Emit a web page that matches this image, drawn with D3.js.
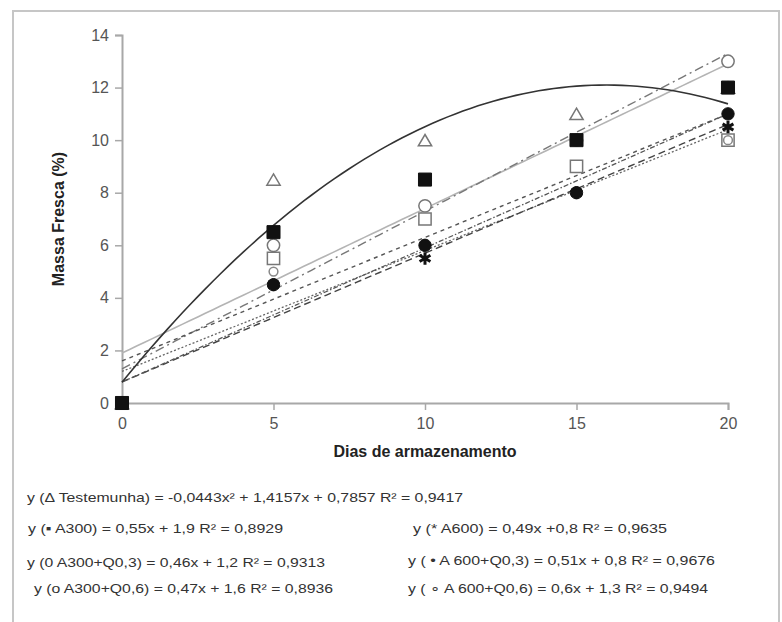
<!DOCTYPE html>
<html>
<head>
<meta charset="utf-8">
<script src="https://cdn.jsdelivr.net/npm/d3@7"></script>
<style>
  html, body { margin: 0; padding: 0; background: #fff; }
  svg { display: block; }
  text { font-family: "Liberation Sans", Arial, sans-serif; }
</style>
</head>
<body>
<svg id="chart" width="782" height="622"></svg>
<script>
// Storage days
const days = [0, 5, 10, 15, 20];

// Fresh mass loss (%) per treatment
const testemunha = [0, 8.5, 10, 11, 12];
const a300       = [0, 6.5, 8.5, 10, 12];
const a600       = [0, 4.5, 5.5, 8, 10.5];
const a300q03    = [0, 5, 6, 8, 10];
const a600q03    = [0, 4.5, 6, 8, 11];
const a300q06    = [0, 5.5, 7, 9, 10];
const a600q06    = [0, 6, 7.5, 10, 13];

// Trend coefficients as given in the equations [c2, c1, c0]
const fitTestemunha = [-0.0443, 1.4157, 0.7857];
const fitA300    = [0, 0.55, 1.9];
const fitA600    = [0, 0.49, 0.8];
const fitA300q03 = [0, 0.46, 1.2];
const fitA600q03 = [0, 0.51, 0.8];
const fitA300q06 = [0, 0.47, 1.6];
const fitA600q06 = [0, 0.6, 1.3];

// Axis ticks
const xTicks = [0, 5, 10, 15, 20];
const yTicks = [0, 2, 4, 6, 8, 10, 12, 14];

// Regression equations
const eqLeft = [
  "y (\u0394 Testemunha)  = -0,0443x\u00B2  + 1,4157x  + 0,7857  R\u00B2 = 0,9417",
  "y (\u25AA A300) = 0,55x + 1,9 R\u00B2 = 0,8929",
  "y (0 A300+Q0,3) = 0,46x + 1,2  R\u00B2 = 0,9313",
  "y (o A300+Q0,6) = 0,47x + 1,6 R\u00B2 = 0,8936"
];
const eqRight = [
  "y (* A600) =  0,49x  +0,8 R\u00B2 = 0,9635",
  "y ( \u2022 A 600+Q0,3) = 0,51x + 0,8 R\u00B2 = 0,9676",
  "y ( \u2218 A 600+Q0,6) = 0,6x + 1,3 R\u00B2 = 0,9494"
];

const svg = d3.select("#chart");

// outer frame
svg.append("rect")
  .attr("x", 13).attr("y", 11).attr("width", 766).attr("height", 640)
  .attr("fill", "none").attr("stroke", "#c6c6c6").attr("stroke-width", 2);

const x = d3.scaleLinear().domain([0, 20]).range([122, 728]);
const y = d3.scaleLinear().domain([0, 14]).range([403, 35]);

const axisColor = "#a8a8a8";

// y axis
const yAxis = svg.append("g").attr("transform", `translate(${x(0)},0)`)
  .call(d3.axisLeft(y).tickValues(yTicks).tickSize(7).tickPadding(6).tickFormat(d3.format("d")));
// x axis
const xAxis = svg.append("g").attr("transform", `translate(0,${y(0)})`)
  .call(d3.axisBottom(x).tickValues(xTicks).tickSize(7).tickPadding(8).tickFormat(d3.format("d")));

[yAxis, xAxis].forEach(g => {
  g.select(".domain").attr("stroke", axisColor).attr("stroke-width", 2);
  g.selectAll(".tick line").attr("stroke", axisColor).attr("stroke-width", 1.5);
  g.selectAll(".tick text").attr("fill", "#555").style("font-size", "16px")
    .style("font-family", "'Liberation Sans', Arial, sans-serif");
});

// axis titles
svg.append("text")
  .attr("x", 425).attr("y", 457)
  .attr("text-anchor", "middle")
  .style("font-size", "16px").style("font-weight", "bold").attr("fill", "#222")
  .text("Dias de armazenamento");

svg.append("text")
  .attr("transform", `translate(64,${(y(0) + y(14)) / 2}) rotate(-90)`)
  .attr("text-anchor", "middle")
  .style("font-size", "16px").style("font-weight", "bold").attr("fill", "#222")
  .text("Massa Fresca (%)");

// trend lines
const xs = d3.range(0, 20.01, 0.25);
const poly = c => t => c[0] * t * t + c[1] * t + c[2];
const line = d3.line().x(d => x(d[0])).y(d => y(d[1]));

const trends = [
  { c: fitA300,    stroke: "#b4b4b4", w: 1.6, dash: null },
  { c: fitA600q06, stroke: "#777",    w: 1.4, dash: "9,4,2,4" },
  { c: fitA300q06, stroke: "#555",    w: 1.4, dash: "4,4" },
  { c: fitA300q03, stroke: "#666",    w: 1.3, dash: "2,2" },
  { c: fitA600,    stroke: "#444",    w: 1.4, dash: "7,4" },
  { c: fitA600q03, stroke: "#555",    w: 1.3, dash: "5,2,1.5,2" },
  { c: fitTestemunha, stroke: "#333", w: 1.6, dash: null }
];

svg.append("g").selectAll("path").data(trends).join("path")
  .attr("d", t => line(xs.map(v => [v, poly(t.c)(v)])))
  .attr("fill", "none")
  .attr("stroke", t => t.stroke)
  .attr("stroke-width", t => t.w)
  .attr("stroke-dasharray", t => t.dash);

// triangle centred on its bounding box
const boxTriangle = {
  draw(ctx, size) {
    const w = Math.sqrt(size * 1.6), h = w * 0.85;
    ctx.moveTo(0, -h / 2);
    ctx.lineTo(w / 2, h / 2);
    ctx.lineTo(-w / 2, h / 2);
    ctx.closePath();
  }
};

// markers
const series = [
  { v: testemunha, sym: boxTriangle,       size: 110, fill: "#fff", stroke: "#777", sw: 1.5 },
  { v: a600q06,    sym: d3.symbolCircle,   size: 120, fill: "#fff", stroke: "#777", sw: 1.5 },
  { v: a300q06,    sym: d3.symbolSquare,   size: 150, fill: "#fff", stroke: "#777", sw: 1.5 },
  { v: a300q03,    sym: d3.symbolCircle,   size: 60,  fill: "#fff", stroke: "#888", sw: 1.5 },
  { v: a600,       sym: d3.symbolAsterisk, size: 110, fill: "none", stroke: "#111", sw: 3 },
  { v: a600q03,    sym: d3.symbolCircle,   size: 120, fill: "#111", stroke: "#111", sw: 1 },
  { v: a300,       sym: d3.symbolSquare,   size: 170, fill: "#111", stroke: "#111", sw: 1 }
];

const mk = svg.append("g");
series.forEach(s => {
  mk.selectAll(null).data(days.map((d, i) => [d, s.v[i]])).join("path")
    .attr("transform", d => `translate(${x(d[0])},${y(d[1])})`)
    .attr("d", d3.symbol().type(s.sym).size(s.size))
    .attr("fill", s.fill)
    .attr("stroke", s.stroke)
    .attr("stroke-width", s.sw);
});

// equations
const eqStyle = t => t.style("font-size", "13.5px").attr("fill", "#333");
const leftPos = [[27, 502, 436], [28, 533, 255], [27, 567, 298], [34, 593, 299]];
const rightPos = [[413, 533, 254], [408, 565, 307], [408, 593, 300]];

eqLeft.forEach((t, i) => {
  svg.append("text").attr("x", leftPos[i][0]).attr("y", leftPos[i][1])
    .attr("textLength", leftPos[i][2]).attr("lengthAdjust", "spacingAndGlyphs")
    .call(eqStyle).text(t);
});
eqRight.forEach((t, i) => {
  svg.append("text").attr("x", rightPos[i][0]).attr("y", rightPos[i][1])
    .attr("textLength", rightPos[i][2]).attr("lengthAdjust", "spacingAndGlyphs")
    .call(eqStyle).text(t);
});
</script>
</body>
</html>
